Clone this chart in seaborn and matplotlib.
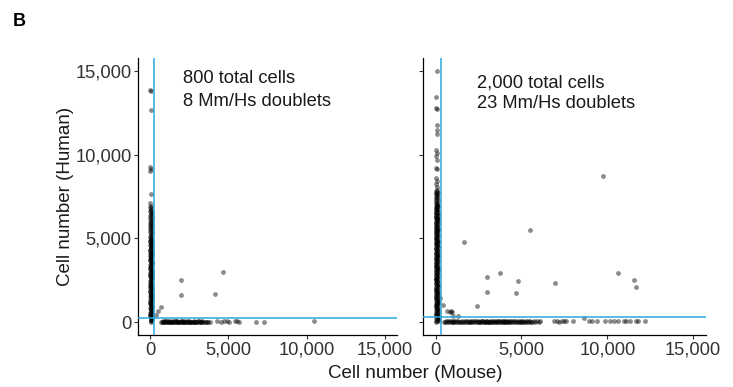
import matplotlib
matplotlib.use("Agg")
import matplotlib.pyplot as plt
import matplotlib.ticker as mticker
import numpy as np
import pandas as pd
import seaborn as sns

# ---------------- data: cell counts per barcode (mouse, human) ----------------
# 800-cell run: human-only cells (low mouse counts)
left_col_h = [6790, 6720, 6655, 6610, 6540, 6470, 6430, 6360, 6300, 6255,
              6180, 6120, 6075, 6010, 5945, 5900, 5830, 5780, 5715, 5660,
              5600, 5545, 5490, 5420, 5370, 5305, 5250, 5190, 5140, 5075,
              5020, 4960, 4905, 4850, 4790, 4735, 4680, 4615, 4560, 4510,
              4445, 4390, 4330, 4280, 4215, 4160, 4105, 4040, 3990, 3930,
              3870, 3815, 3760, 3705, 3645, 3590, 3530, 3475, 3420, 3360,
              3305, 3250, 3195, 3135, 3080, 3020, 2965, 2910, 2850, 2795,
              2740, 2680, 2625, 2570, 2510, 2455, 2400, 2340, 2285, 2230,
              2170, 2115, 2060, 2000, 1945, 1890, 1830, 1775, 1720, 1660,
              1605, 1550, 1490, 1435, 1380, 1320, 1265, 1210, 1150, 1095,
              1040, 980, 925, 870, 810, 755, 700, 640, 585, 530,
              470, 415, 360, 300, 245, 190, 130, 75, 4980, 4850,
              4720, 4600, 4470, 4340, 4210, 4090, 3960, 3830, 3700, 3580,
              3450, 3320, 3190, 3070, 2940, 2810, 2680, 2560, 2430, 2300,
              2170, 2050, 1920, 1790, 1660, 1540, 1410, 1280, 1150, 1030,
              900, 770, 640, 520, 390, 260, 140, 40, 13850, 13800,
              12660, 9250, 9120, 8990, 7620, 7110, 6950, 6860]
left_col_m = [40, 85, 15, 60, 110, 30, 75, 5, 95, 50,
              20, 120, 65, 35, 90, 10, 55, 105, 25, 80,
              45, 0, 100, 70, 15, 125, 35, 60, 90, 5,
              75, 50, 115, 20, 85, 40, 65, 10, 100, 30,
              55, 95, 0, 70, 120, 25, 80, 45, 110, 15,
              60, 35, 90, 5, 75, 130, 40, 100, 20, 65,
              85, 10, 50, 115, 30, 70, 0, 95, 45, 125,
              20, 80, 55, 105, 35, 0, 90, 60, 15, 110,
              40, 75, 25, 120, 65, 5, 100, 50, 85, 30,
              115, 10, 70, 45, 95, 20, 130, 60, 0, 80,
              35, 105, 55, 15, 90, 40, 125, 65, 10, 100,
              50, 20, 85, 140, 30, 110, 60, 45, 70, 15,
              95, 40, 65, 0, 120, 30, 80, 55, 10, 105,
              45, 75, 20, 95, 60, 5, 115, 35, 85, 50,
              25, 100, 70, 10, 55, 130, 40, 90, 15, 65,
              110, 30, 80, 45, 20, 95, 60, 35, 25, 45,
              30, 15, 35, 20, 40, 25, 55, 10]

# 800-cell run: mouse-only cells (low human counts)
left_row_m = [700, 760, 810, 870, 920, 980, 1030, 1090, 1140, 1200,
              1250, 1310, 1360, 1420, 1470, 1530, 1580, 1640, 1690, 1750,
              1800, 1860, 1910, 1970, 2020, 2080, 2130, 2190, 2240, 2300,
              2350, 2410, 2460, 2520, 2570, 2630, 2680, 2740, 2790, 2850,
              2900, 2960, 3010, 3070, 3120, 3180, 3230, 3290, 3340, 3400,
              3480, 3560, 3650, 3720, 3800, 4260, 4540, 4750, 4930, 5030,
              5400, 5540, 5670, 6790, 7270, 10470, 1000, 1300, 1600, 1900,
              2200, 2500, 2800, 3100, 850, 1150, 1450, 1750, 2050, 2350]
left_row_h = [30, 10, 45, 0, 20, 55, 15, 35, 5, 40,
              25, 50, 0, 30, 15, 45, 10, 60, 20, 35,
              5, 40, 25, 55, 0, 30, 50, 15, 45, 10,
              35, 20, 60, 5, 40, 25, 0, 50, 15, 30,
              45, 10, 35, 55, 20, 0, 40, 25, 60, 15,
              30, 5, 45, 20, 35, 80, 50, 110, 70, 40,
              60, 90, 30, 40, 50, 60, 70, 80, 60, 50,
              75, 40, 65, 55, 85, 70, 90, 60, 80, 70]

# 800-cell run: mixed-species barcodes
left_dbl_m = [1950, 1950, 4120, 4650, 700, 490, 380]
left_dbl_h = [2540, 1640, 1680, 2980, 890, 650, 460]

# 2,000-cell run: human-only cells
right_col_h = [7900, 7840, 7790, 7730, 7680, 7620, 7565, 7510, 7455, 7400,
               7345, 7290, 7235, 7180, 7125, 7070, 7015, 6960, 6905, 6850,
               6795, 6740, 6685, 6630, 6575, 6520, 6465, 6410, 6355, 6300,
               6245, 6190, 6135, 6080, 6025, 5970, 5915, 5860, 5805, 5750,
               5695, 5640, 5585, 5530, 5475, 5420, 5365, 5310, 5255, 5200,
               5145, 5090, 5035, 4980, 4925, 4870, 4815, 4760, 4705, 4650,
               4595, 4540, 4485, 4430, 4375, 4320, 4265, 4210, 4155, 4100,
               4045, 3990, 3935, 3880, 3825, 3770, 3715, 3660, 3605, 3550,
               3495, 3440, 3385, 3330, 3275, 3220, 3165, 3110, 3055, 3000,
               2945, 2890, 2835, 2780, 2725, 2670, 2615, 2560, 2505, 2450,
               2395, 2340, 2285, 2230, 2175, 2120, 2065, 2010, 1955, 1900,
               1845, 1790, 1735, 1680, 1625, 1570, 1515, 1460, 1405, 1350,
               1295, 1240, 1185, 1130, 1075, 1020, 965, 910, 855, 800,
               745, 690, 635, 580, 525, 470, 415, 360, 305, 250,
               195, 140, 85, 30, 7000, 6880, 6760, 6640, 6520, 6400,
               6280, 6160, 6040, 5920, 5800, 5680, 5560, 5440, 5320, 5200,
               5080, 4960, 4840, 4720, 4600, 4480, 4360, 4240, 4120, 4000,
               3880, 3760, 3640, 3520, 3400, 3280, 3160, 3040, 2920, 2800,
               2680, 2560, 2440, 2320, 2200, 2080, 1960, 1840, 1720, 1600,
               1480, 1360, 1240, 1120, 1000, 880, 760, 640, 520, 400,
               280, 160, 60, 14950, 13400, 12800, 12700, 11770, 11470, 11230,
               10250, 10080, 9900, 9680, 9220, 9150, 8600, 8400, 8250, 8050]
right_col_m = [60, 20, 95, 45, 130, 10, 75, 110, 35, 85,
               50, 140, 25, 70, 5, 100, 55, 120, 30, 80,
               15, 105, 65, 40, 145, 20, 90, 50, 125, 0,
               70, 35, 115, 60, 10, 95, 45, 135, 25, 80,
               55, 5, 100, 40, 125, 15, 75, 110, 30, 65,
               140, 20, 85, 50, 0, 105, 60, 130, 35, 90,
               10, 70, 115, 45, 25, 95, 55, 145, 15, 80,
               40, 120, 65, 5, 100, 30, 85, 135, 50, 20,
               110, 60, 0, 90, 40, 125, 15, 75, 145, 35,
               95, 55, 10, 130, 70, 25, 105, 45, 85, 0,
               60, 140, 30, 80, 115, 20, 50, 100, 5, 75,
               125, 40, 90, 15, 65, 145, 35, 110, 55, 10,
               85, 130, 25, 70, 160, 45, 100, 5, 120, 60,
               30, 150, 80, 15, 110, 170, 50, 90, 140, 20,
               180, 70, 120, 40, 55, 100, 20, 85, 40, 130,
               10, 75, 115, 50, 95, 25, 140, 65, 0, 105,
               35, 80, 120, 15, 60, 145, 45, 90, 5, 70,
               125, 30, 100, 55, 10, 85, 135, 40, 75, 20,
               110, 50, 95, 0, 65, 140, 25, 80, 115, 45,
               15, 90, 130, 60, 35, 105, 70, 150, 25, 120,
               85, 200, 40, 60, 50, 40, 70, 80, 70, 90,
               50, 60, 40, 70, 50, 70, 40, 60, 50, 80]

# 2,000-cell run: mouse-only cells
right_row_m = [490, 550, 600, 660, 710, 770, 820, 880, 930, 990,
               1040, 1100, 1150, 1210, 1260, 1320, 1370, 1430, 1480, 1540,
               1590, 1650, 1700, 1760, 1810, 1870, 1920, 1980, 2030, 2090,
               2140, 2200, 2250, 2310, 2360, 2420, 2470, 2530, 2580, 2640,
               2690, 2750, 2800, 2860, 2910, 2970, 3020, 3080, 3130, 3190,
               3240, 3300, 3350, 3410, 3460, 3520, 3570, 3630, 3680, 3740,
               3790, 3850, 3900, 3960, 4010, 4070, 4120, 4180, 4230, 4290,
               4340, 4400, 4450, 4510, 4560, 4620, 4670, 4730, 4780, 4840,
               4890, 4950, 5000, 5060, 5110, 5170, 5220, 5280, 5330, 5390,
               5440, 5500, 5560, 5640, 5720, 5810, 5900, 6000, 6100, 6920,
               7075, 7210, 7360, 7500, 7620, 7990, 8950, 9110, 9400, 9880,
               10140, 10410, 10600, 10950, 11110, 11340, 11650, 11770, 12210, 8620,
               3300, 3500, 3700, 3900, 4100, 4300, 2500, 2700, 2900, 3100]
right_row_h = [40, 10, 70, 25, 55, 0, 85, 35, 60, 15,
               45, 80, 5, 65, 30, 90, 20, 50, 10, 75,
               35, 0, 60, 25, 85, 45, 15, 70, 40, 5,
               55, 30, 90, 10, 65, 20, 80, 45, 0, 60,
               25, 75, 40, 5, 55, 85, 15, 50, 30, 70,
               10, 60, 35, 90, 20, 45, 0, 80, 55, 25,
               70, 15, 50, 85, 30, 5, 65, 40, 95, 20,
               55, 0, 75, 35, 60, 10, 90, 45, 25, 70,
               15, 50, 80, 30, 65, 5, 40, 85, 20, 55,
               35, 70, 10, 50, 90, 25, 60, 40, 80, 60,
               70, 50, 80, 60, 90, 70, 100, 60, 80, 70,
               90, 60, 80, 100, 70, 60, 90, 80, 100, 280,
               20, 60, 40, 80, 10, 50, 30, 70, 5, 45]

# 2,000-cell run: mixed-species barcodes
right_dbl_m = [9750, 5480, 1650, 2970, 3780, 4790, 3000, 4710, 6940, 10640,
               11550, 11700, 2440, 680, 830, 910, 970, 1020, 1310, 250, 425]
right_dbl_h = [8730, 5500, 4760, 2720, 2920, 2440, 1810, 1780, 2340, 2920,
               2520, 2120, 975, 650, 600, 650, 620, 360, 380, 1450, 1050]

# species-calling thresholds (mouse, human)
left_cut = (270, 260)
right_cut = (305, 300)

panel_titles = [["800 total cells", "8 Mm/Hs doublets"],
                ["2,000 total cells", "23 Mm/Hs doublets"]]
tick_values = [0, 5000, 10000, 15000]


def build(col_m, col_h, row_m, row_h, dbl_m, dbl_h):
    return pd.DataFrame({
        "mouse": list(col_m) + list(row_m) + list(dbl_m),
        "human": list(col_h) + list(row_h) + list(dbl_h),
    })


left_df = build(left_col_m, left_col_h, left_row_m, left_row_h, left_dbl_m, left_dbl_h)
right_df = build(right_col_m, right_col_h, right_row_m, right_row_h, right_dbl_m, right_dbl_h)

# ---------------- styling ----------------
sns.set_style("ticks")
plt.rcParams["font.family"] = ["Liberation Sans", "DejaVu Sans"]
plt.rcParams["axes.edgecolor"] = "black"
plt.rcParams["axes.linewidth"] = 0.9

W, H = 733, 387
fig = plt.figure(figsize=(W / 100, H / 100), dpi=100)
fig.patch.set_facecolor("white")

# axes boxes in pixels: (left, right, top, bottom)
boxes = [(138.3, 396.7, 58, 335), (422.7, 706.0, 58, 335)]
axes = []
for (l, r, t, b) in boxes:
    ax = fig.add_axes([l / W, (H - b) / H, (r - l) / W, (b - t) / H])
    axes.append(ax)

FS = 13.2
line_color = "#29A9E0"
tick_fmt = mticker.FuncFormatter(lambda v, p: f"{int(v):,}")
data = [left_df, right_df]
cuts = [left_cut, right_cut]
text_pos = [(2090, 14250, 12920), (2425, 14010, 12760)]

for i, ax in enumerate(axes):
    sns.scatterplot(data=data[i], x="mouse", y="human", ax=ax,
                    color="black", alpha=0.45, s=12, linewidth=0,
                    legend=False, zorder=2)
    ax.axvline(cuts[i][0], color=line_color, lw=1.1, zorder=3)
    ax.axhline(cuts[i][1], color=line_color, lw=1.1, zorder=3)
    ax.set_xlim(-750, 15750)
    ax.set_ylim(-750, 15750)
    ax.set_xticks(tick_values)
    ax.set_yticks(tick_values)
    ax.xaxis.set_major_formatter(tick_fmt)
    ax.yaxis.set_major_formatter(tick_fmt)
    ax.tick_params(axis="both", length=3.2, width=0.8, color="#333333",
                   labelsize=FS, labelcolor="#333333", pad=1.5)
    if i == 1:
        ax.tick_params(axis="y", labelleft=False)
    ax.set_xlabel("")
    ax.set_ylabel("")
    for side in ("top", "right"):
        ax.spines[side].set_visible(False)
    tx, ty1, ty2 = text_pos[i]
    ax.text(tx, ty1, panel_titles[i][0], fontsize=FS, color="#1a1a1a",
            va="baseline", ha="left")
    ax.text(tx, ty2, panel_titles[i][1], fontsize=FS, color="#1a1a1a",
            va="baseline", ha="left")

fig.text(415 / W, 1 - 373 / H, "Cell number (Mouse)", ha="center", va="center",
         fontsize=FS + 0.3, color="#1a1a1a")
fig.text(66 / W, 1 - 196 / H, "Cell number (Human)", ha="center", va="center",
         rotation=90, fontsize=FS + 0.3, color="#1a1a1a")
fig.text(13 / W, 1 - 21 / H, "B", ha="left", va="center",
         fontsize=13, fontweight="bold", color="black")

fig.savefig("out.png", dpi=100, facecolor="white")
